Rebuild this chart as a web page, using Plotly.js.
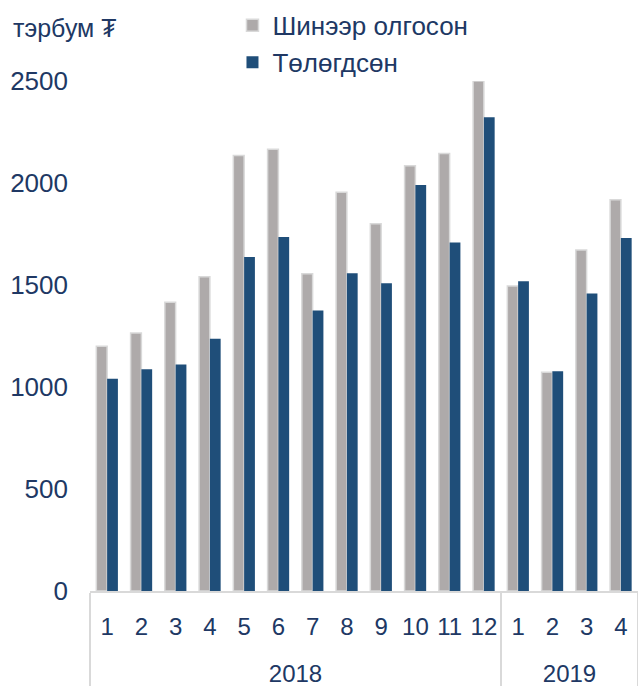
<!DOCTYPE html>
<html>
<head>
<meta charset="utf-8">
<script src="https://cdn.plot.ly/plotly-3.0.1.min.js"></script>
<style>
html,body{margin:0;padding:0;background:#fff;}
#chart{width:638px;height:686px;}
</style>
</head>
<body>
<div id="chart"></div>
<script>
const years  = ['2018','2018','2018','2018','2018','2018','2018','2018','2018','2018','2018','2018','2019','2019','2019','2019'];
const months = ['1','2','3','4','5','6','7','8','9','10','11','12','1','2','3','4'];
const issued = [1200,1265,1415,1540,2135,2165,1555,1955,1800,2085,2145,2500,1495,1072,1672,1918];
const repaid = [1040,1087,1110,1236,1637,1735,1375,1557,1508,1990,1708,2322,1518,1077,1458,1730];
const seriesNames = ['Шинээр олгосон','Төлөгдсөн'];
const unitLabel = 'тэрбум ₮';
const yTicks = [0,500,1000,1500,2000,2500];

const textColor = '#203864';
const fontFam = 'Liberation Sans, Arial, sans-serif';

// year labels are pushed one line lower to sit under the month row
const yearRow = years.map(y => '<br>' + y);

const traces = [
  {type:'bar', name:seriesNames[0], x:[yearRow, months], y:issued,
   marker:{color:'#AEAAAA', line:{color:'#D9D9D9', width:1.5}}},
  {type:'bar', name:seriesNames[1], x:[yearRow, months], y:repaid,
   marker:{color:'#1F4E79', line:{color:'#1F4E79', width:0}}}
];

const layout = {
  width:638, height:686,
  margin:{l:90, r:0, t:81, b:95},
  paper_bgcolor:'#fff', plot_bgcolor:'#fff',
  font:{family:fontFam, color:textColor, size:24},
  barmode:'group', bargap:0.37, bargroupgap:0,
  showlegend:true,
  legend:{orientation:'v', x:0.26, xanchor:'left', y:1.155, yanchor:'top',
          font:{size:26, color:textColor}, bgcolor:'rgba(0,0,0,0)'},
  xaxis:{type:'multicategory', automargin:false, showgrid:false, showline:true, linecolor:'#D9D9D9', linewidth:1.5,
         showdividers:true, dividercolor:'#D9D9D9', dividerwidth:1.5, ticks:'', tickangle:0,
         ticklabelstandoff:14, tickfont:{size:24, color:textColor}},
  yaxis:{range:[0,2500], automargin:false, tickvals:yTicks, showgrid:false, zeroline:false, showline:false,
         ticks:'', ticklabelstandoff:21, tickfont:{size:26, color:textColor}},
  annotations:[{text:unitLabel, xref:'paper', yref:'paper', x:-0.145, xanchor:'left',
                y:1.103, yanchor:'middle', showarrow:false, font:{size:25, color:textColor}}]
};

Plotly.newPlot('chart', traces, layout, {displayModeBar:false, staticPlot:true});
</script>
</body>
</html>
